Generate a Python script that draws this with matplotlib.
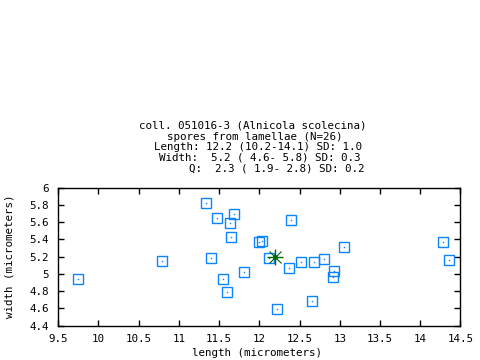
import matplotlib
matplotlib.use("Agg")
import matplotlib.pyplot as plt

# spore measurements (micrometers)
length = [9.75, 10.79, 11.34, 11.47, 11.68, 11.64, 11.65, 11.40, 12.00, 12.03,
          12.12, 11.81, 11.55, 11.60, 12.39, 13.05, 12.52, 12.68, 12.80, 12.37,
          12.93, 12.92, 12.65, 12.22, 14.28, 14.36]
width = [4.94, 5.15, 5.82, 5.65, 5.69, 5.59, 5.43, 5.19, 5.37, 5.38,
         5.19, 5.02, 4.94, 4.79, 5.62, 5.31, 5.14, 5.14, 5.17, 5.07,
         5.03, 4.97, 4.69, 4.59, 5.37, 5.16]
mean_length = 12.2
mean_width = 5.2

title_lines = [
    "coll. 051016-3 (Alnicola scolecina)",
    "spores from lamellae (N=26)",
    "Length: 12.2 (10.2-14.1) SD: 1.0",
    "Width:  5.2 ( 4.6- 5.8) SD: 0.3",
    "Q:  2.3 ( 1.9- 2.8) SD: 0.2",
]
title_center_px = [253, 254.5, 257.5, 260, 276.5]
title_y_px = [125.8, 136.5, 146.8, 157.5, 168.2]

xticks = [9.5, 10, 10.5, 11, 11.5, 12, 12.5, 13, 13.5, 14, 14.5]
xticklabels = ["9.5", "10", "10.5", "11", "11.5", "12", "12.5", "13", "13.5", "14", "14.5"]
yticks = [4.4, 4.6, 4.8, 5, 5.2, 5.4, 5.6, 5.8, 6]
yticklabels = ["4.4", "4.6", "4.8", "5", "5.2", "5.4", "5.6", "5.8", "6"]

plt.rcParams['font.family'] = ['DejaVu Sans Mono']
fs = 7.8

fig = plt.figure(figsize=(4.8, 3.6), dpi=100)
ax = fig.add_axes([58.3 / 480, 1 - 325.7 / 360, 402 / 480, 138 / 360])

blue = '#0a84ff'
ax.plot(length, width, linestyle='none', marker='s', markersize=7.2,
        markerfacecolor='none', markeredgecolor=blue, markeredgewidth=1.0)
ax.plot(length, width, linestyle='none', marker='s', markersize=1.0,
        markerfacecolor=blue, markeredgecolor='none')

green = '#006400'
ax.plot([mean_length], [mean_width], marker='+', markersize=11,
        color=green, markeredgewidth=1.0)
ax.plot([mean_length], [mean_width], marker='x', markersize=8,
        color=green, markeredgewidth=0.8)
ax.plot([mean_length], [mean_width], marker='o', markersize=2.5, color=green)

ax.set_xlim(9.5, 14.5)
ax.set_ylim(4.4, 6)
ax.set_xticks(xticks)
ax.set_xticklabels(xticklabels, fontsize=fs)
ax.set_yticks(yticks)
ax.set_yticklabels(yticklabels, fontsize=fs)
ax.tick_params(direction='in', length=4, width=1, top=True, right=True)
ax.tick_params(axis='x', pad=6)
ax.tick_params(axis='y', pad=7)
for s in ax.spines.values():
    s.set_linewidth(1)

# axis labels placed like the original
fig.text(257 / 480, 1 - 353 / 360, "length (micrometers)", fontsize=fs,
         ha='center', va='center')
fig.text(10 / 480, 1 - 256 / 360, "width (micrometers)", fontsize=fs,
         ha='center', va='center', rotation=90)

for line, xc, yl in zip(title_lines, title_center_px, title_y_px):
    fig.text(xc / 480, 1 - yl / 360, line, fontsize=fs, ha='center', va='center')

fig.savefig("out.png", dpi=100)
